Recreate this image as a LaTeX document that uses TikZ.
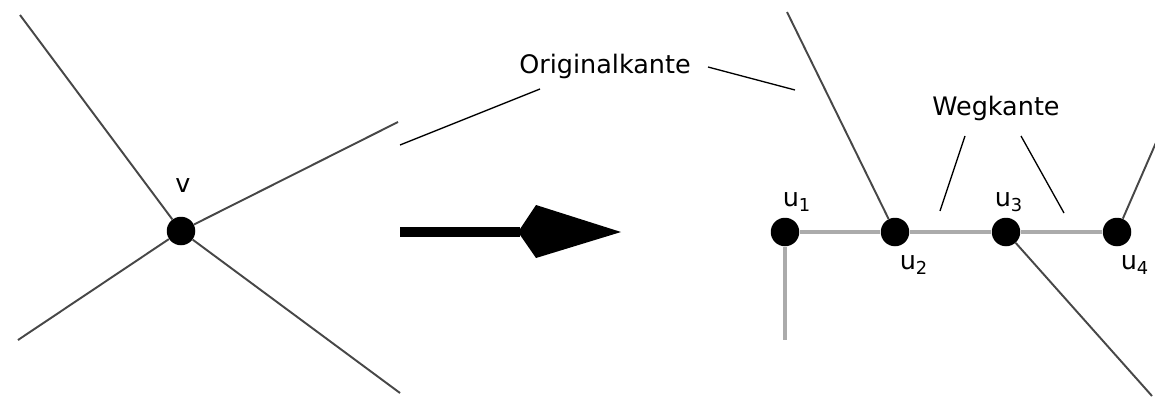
\documentclass[tikz,border=0pt]{standalone}
\usepackage{fontspec}
\setmainfont{DejaVu Sans}

\begin{document}
\begin{tikzpicture}[x=0.02cm, y=-0.02cm,
		dot/.style={circle, fill=black, inner sep=0pt, minimum size=0.57cm},
		edge/.style={draw=black!72, line width=1.1pt},
		path/.style={draw=black!33, line width=1.8pt},
		lead/.style={draw=black, line width=0.75pt},
		lbl/.style={font=\fontsize{14.5}{16}\selectfont, inner sep=0pt}]
	\useasboundingbox (0,0) rectangle (1155,396);

	% left side: a single vertex v
	\node[dot] (v) at (181,231) {};
	\node[lbl] (lv) at (183,186) {v};
	\coordinate (a1) at (20,15);
	\coordinate (a2) at (398,122);
	\coordinate (a3) at (18,340);
	\coordinate (a4) at (400,393);
	\foreach \e in {a1,a2,a3,a4}
		\draw[edge] (v) -- (\e);

	% big arrow in the middle
	\coordinate (s) at (400,232);
	\coordinate (h) at (520,232);
	\draw[line width=5.5pt] (s) -- (h);
	\fill (518,232) -- (536,205) -- (621,232) -- (536,258) -- cycle;

	% right side: the vertex split into a path
	\foreach \i/\x in {1/785,2/895,3/1006,4/1117}
		\node[dot] (u\i) at (\x,232) {};
	\node[lbl] (l1) at (797,202) {u\textsubscript{1}};
	\node[lbl] (l2) at (914,265) {u\textsubscript{2}};
	\node[lbl] (l3) at (1009,202) {u\textsubscript{3}};
	\node[lbl] (l4) at (1135,265) {u\textsubscript{4}};

	\coordinate (b1) at (785,340);
	\coordinate (b2) at (787,12);
	\coordinate (b3) at (1152,396);
	\coordinate (b4) at (1158,138);
	\draw[path] (u1) -- (u2) -- (u3) -- (u4);
	\draw[path] (u1) -- (b1);
	\draw[edge] (u2) -- (b2);
	\draw[edge] (u3) -- (b3);
	\draw[edge] (u4) -- (b4);

	% labels with leader lines
	\node[lbl] (orig) at (605,66) {Originalkante};
	\draw[lead] (540,89) -- (400,145);
	\draw[lead] (708,67) -- (795,90);
	\node[lbl] (weg) at (996,108) {Wegkante};
	\draw[lead] (965,136) -- (940,211);
	\draw[lead] (1021,136) -- (1064,213);
\end{tikzpicture}
\end{document}
